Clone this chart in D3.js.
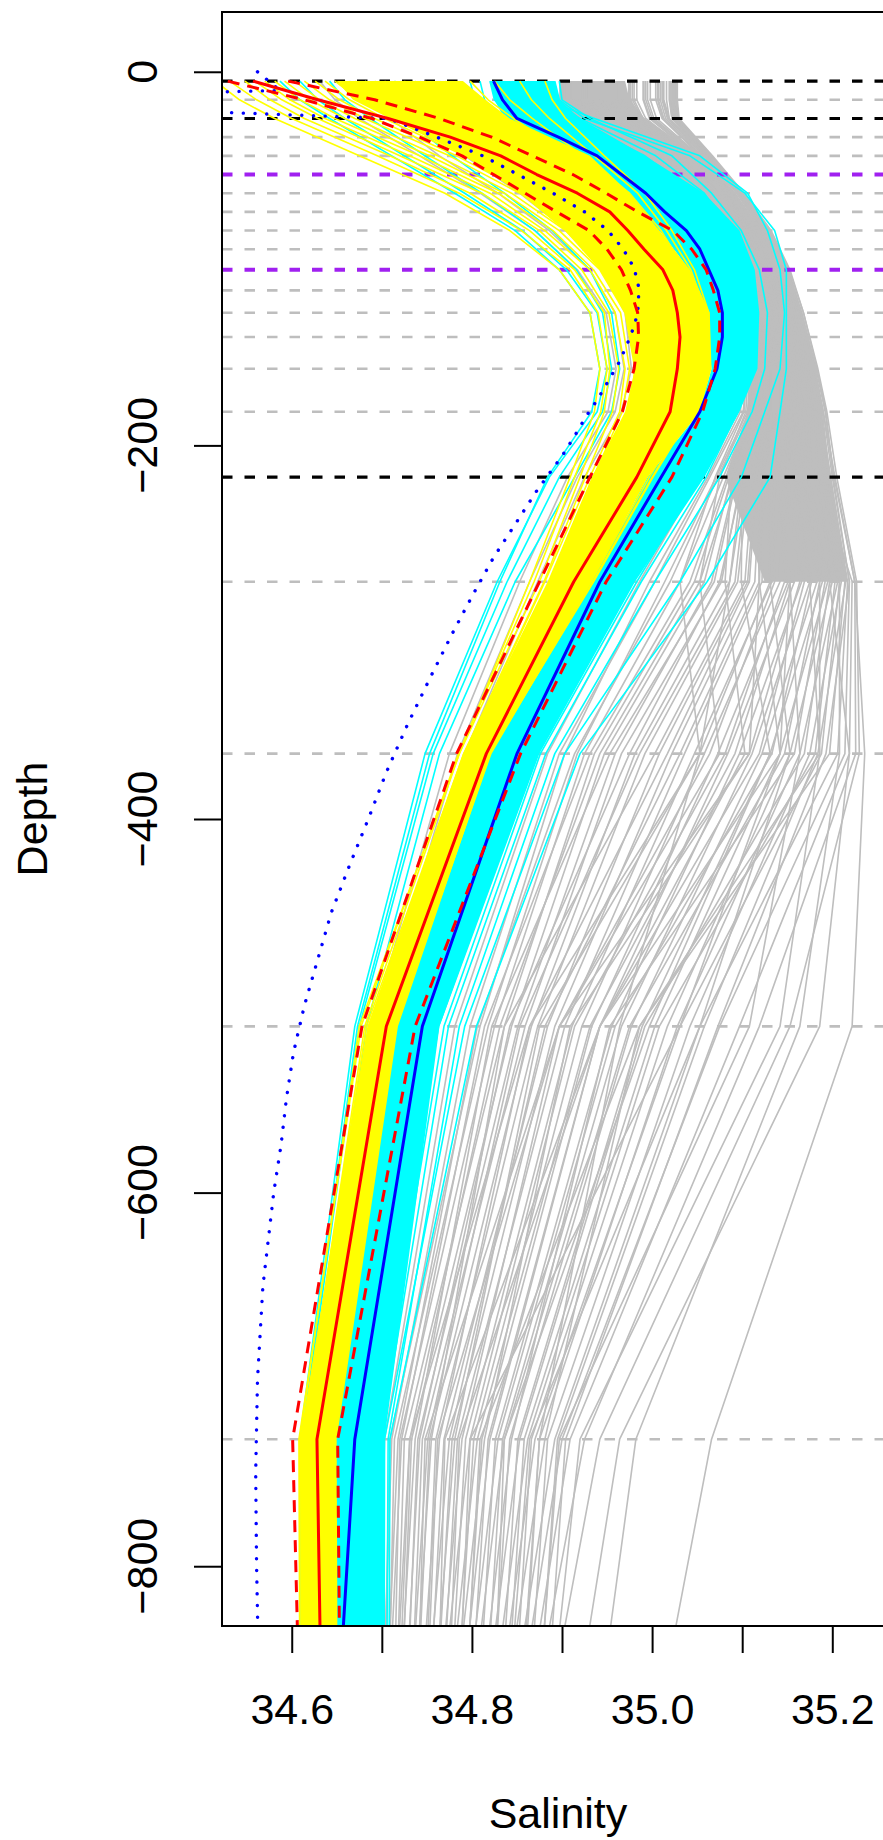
<!DOCTYPE html>
<html><head><meta charset="utf-8">
<script src="https://cdn.jsdelivr.net/npm/d3@7"></script>
<style>body{margin:0;background:#fff}text{font-family:"Liberation Sans",Arial,Helvetica,sans-serif}</style>
</head><body><svg id="c" width="883" height="1840"></svg>
<script>
// ---- data ----
const levels = [5,15,25,35,45,55,65,75,85,95,106,117,129,142,159,182,217,273,365,511,732,1000];
const famDepths = [5,15,25,45,65,85,106,129,159,182,217,273,365,511,732,1000];
const gridGrey = [15,35,45,65,75,85,95,117,129,142,159,182,273,365,511,732];
const gridBlack = [5,25,217];
const gridPurple = [55,106];
const xTicks = [34.6,34.7,34.8,34.9,35.0,35.1,35.2];
const xLabels = [34.6,34.8,35.0,35.2];
const yTicks = [0,-200,-400,-600,-800];

const redMean  = [34.557,34.629,34.707,34.776,34.832,34.872,34.917,34.953,34.973,34.991,35.012,35.023,35.028,35.031,35.028,35.020,34.983,34.913,34.816,34.705,34.628,34.637];
const redPlus  = [34.596,34.692,34.764,34.822,34.867,34.912,34.949,34.984,35.023,35.044,35.060,35.068,35.075,35.075,35.070,35.056,35.022,34.949,34.854,34.737,34.651,34.656];
const redMinus = [34.529,34.614,34.689,34.742,34.789,34.824,34.859,34.894,34.930,34.950,34.966,34.976,34.984,34.985,34.980,34.967,34.931,34.875,34.783,34.678,34.601,34.615];
const blueMean = [34.824,34.834,34.850,34.896,34.939,34.966,34.993,35.014,35.038,35.053,35.063,35.073,35.078,35.078,35.072,35.053,35.010,34.942,34.850,34.745,34.670,34.636];

const obsDepth = [0,10,15,25,35,45,55,65,75,85,95,105,115,125,135,145,155,165,175,185,195,205,215,225,240,260,280,300,325,350,375,400,425,450,475,500,525,550,575,600,650,700,750,800,850];
const obsSal = [34.562,34.587,34.148,34.707,34.761,34.812,34.851,34.890,34.925,34.951,34.968,34.980,34.985,34.985,34.981,34.973,34.964,34.952,34.940,34.926,34.914,34.901,34.886,34.871,34.851,34.824,34.801,34.779,34.753,34.728,34.705,34.685,34.664,34.644,34.629,34.614,34.602,34.594,34.588,34.580,34.568,34.562,34.560,34.561,34.563];

const yellowCoreDepth = [5,15,25,45,65,85,106,129,159,182,217,273,365,511,732,1000];
const yellowCoreLeft  = [34.650,34.668,34.709,34.792,34.853,34.903,34.942,34.970,34.981,34.970,34.933,34.884,34.790,34.684,34.609,34.611];
const yellowCoreRight = [34.790,34.815,34.842,34.931,34.975,35.008,35.042,35.064,35.066,35.053,34.995,34.933,34.820,34.717,34.648,34.648];
const cyanCoreDepth = [5,15,25,45,65,85,106,129,159,182,217,273,365,511,732,1000];
const cyanCoreLeft  = [34.820,34.825,34.836,34.905,34.959,35.008,35.042,35.058,35.066,35.053,34.995,34.933,34.820,34.717,34.648,34.648];
const cyanCoreRight = [34.892,34.897,34.920,34.992,35.058,35.097,35.114,35.119,35.117,35.097,35.058,34.981,34.875,34.764,34.703,34.703];
const greyCoreDepth = [5,15,25,45,65,85,106,129,159,182,217,273];
const greyCoreLeft  = [34.897,34.897,34.911,34.975,35.031,35.064,35.084,35.097,35.108,35.106,35.081,35.125];
const greyCoreRight = [34.970,34.975,34.992,35.053,35.092,35.122,35.145,35.160,35.177,35.188,35.199,35.217];

const yellowLines = [
[34.515,34.542,34.581,34.675,34.770,34.842,34.897,34.931,34.942,34.936,34.909,34.864,34.786,34.675,34.609,34.609],
[34.548,34.576,34.614,34.709,34.798,34.864,34.914,34.947,34.953,34.947,34.920,34.875,34.786,34.681,34.612,34.614],
[34.570,34.598,34.637,34.731,34.820,34.881,34.931,34.959,34.970,34.964,34.931,34.881,34.792,34.687,34.614,34.614],
[34.592,34.620,34.659,34.753,34.836,34.897,34.942,34.970,34.981,34.975,34.942,34.892,34.798,34.687,34.617,34.620],
[34.614,34.642,34.681,34.775,34.853,34.914,34.953,34.986,34.992,34.981,34.947,34.897,34.803,34.692,34.620,34.622],
[34.637,34.664,34.703,34.792,34.870,34.925,34.964,34.992,35.003,34.992,34.959,34.903,34.807,34.698,34.623,34.626],
[34.659,34.687,34.725,34.809,34.886,34.936,34.975,35.003,35.014,34.997,34.964,34.909,34.809,34.700,34.627,34.629],
[34.681,34.709,34.748,34.831,34.903,34.953,34.986,35.014,35.020,35.008,34.970,34.911,34.811,34.702,34.629,34.631],
[34.703,34.731,34.768,34.845,34.915,34.962,34.997,35.021,35.027,35.013,34.976,34.915,34.813,34.705,34.632,34.634],
[34.725,34.751,34.786,34.862,34.929,34.973,35.006,35.028,35.034,35.020,34.982,34.920,34.815,34.708,34.636,34.638],
[34.748,34.772,34.806,34.877,34.942,34.983,35.015,35.036,35.041,35.025,34.986,34.923,34.818,34.710,34.639,34.641],
[34.770,34.793,34.825,34.893,34.954,34.993,35.023,35.043,35.046,35.031,34.991,34.926,34.819,34.712,34.642,34.644],
[34.798,34.818,34.846,34.909,34.965,35.002,35.031,35.050,35.052,35.035,34.994,34.930,34.820,34.714,34.646,34.648],
[34.825,34.842,34.867,34.923,34.975,35.010,35.037,35.055,35.056,35.040,34.997,34.932,34.821,34.715,34.648,34.650],
[34.853,34.866,34.886,34.936,34.984,35.016,35.043,35.060,35.061,35.043,35.000,34.934,34.820,34.717,34.649,34.651],
[34.881,34.889,34.904,34.947,34.992,35.022,35.047,35.063,35.063,35.045,35.001,34.935,34.819,34.715,34.647,34.649],
[34.531,34.561,34.600,34.695,34.786,34.855,34.909,34.940,34.950,34.943,34.914,34.869,34.785,34.677,34.608,34.610],
[34.559,34.589,34.629,34.720,34.811,34.875,34.922,34.952,34.963,34.956,34.926,34.880,34.791,34.683,34.611,34.613],
[34.581,34.609,34.648,34.742,34.829,34.890,34.935,34.965,34.975,34.967,34.935,34.886,34.795,34.687,34.614,34.617],
[34.603,34.631,34.670,34.762,34.844,34.904,34.949,34.977,34.987,34.978,34.944,34.893,34.800,34.690,34.618,34.620],
[34.626,34.653,34.692,34.783,34.862,34.919,34.961,34.989,34.998,34.987,34.953,34.899,34.803,34.694,34.621,34.623],
[34.648,34.675,34.714,34.802,34.877,34.932,34.972,34.998,35.007,34.996,34.961,34.904,34.806,34.698,34.624,34.627],
[34.670,34.698,34.737,34.820,34.893,34.944,34.982,35.008,35.015,35.003,34.967,34.909,34.809,34.701,34.628,34.630],
[34.692,34.720,34.758,34.838,34.909,34.956,34.992,35.017,35.024,35.010,34.973,34.913,34.812,34.704,34.631,34.633],
[34.714,34.741,34.778,34.853,34.922,34.967,35.002,35.025,35.031,35.016,34.978,34.917,34.814,34.707,34.633,34.636],
[34.737,34.762,34.796,34.870,34.935,34.977,35.011,35.033,35.037,35.022,34.984,34.922,34.816,34.709,34.638,34.640]
];
const cyanLines = [
[34.609,34.629,34.659,34.725,34.792,34.856,34.905,34.939,34.950,34.939,34.886,34.828,34.748,34.670,34.609,34.609],
[34.642,34.659,34.687,34.748,34.811,34.870,34.916,34.945,34.955,34.945,34.897,34.839,34.757,34.675,34.612,34.613],
[34.587,34.609,34.642,34.711,34.781,34.848,34.897,34.931,34.942,34.933,34.884,34.831,34.753,34.673,34.611,34.611],
[34.681,34.698,34.725,34.778,34.836,34.889,34.931,34.955,34.964,34.955,34.914,34.848,34.764,34.683,34.617,34.618],
[34.892,34.897,34.925,35.042,35.103,35.136,35.149,35.149,35.149,35.142,35.131,35.061,34.920,34.805,34.709,34.707],
[34.875,34.881,34.936,35.053,35.106,35.128,35.142,35.147,35.142,35.125,35.099,35.031,34.903,34.792,34.703,34.702],
[34.897,34.900,34.931,35.022,35.066,35.099,35.119,35.128,35.125,35.111,35.075,35.003,34.892,34.786,34.707,34.704],
[34.798,34.803,34.822,34.903,34.959,35.011,35.042,35.056,35.053,35.034,34.992,34.933,34.822,34.720,34.649,34.649],
[34.809,34.814,34.831,34.914,34.970,35.020,35.051,35.064,35.062,35.044,35.004,34.942,34.831,34.727,34.654,34.654],
[34.820,34.825,34.842,34.925,34.981,35.028,35.058,35.071,35.068,35.052,35.013,34.949,34.839,34.733,34.660,34.660],
[34.829,34.834,34.853,34.936,34.992,35.037,35.066,35.077,35.074,35.058,35.020,34.955,34.845,34.740,34.665,34.665],
[34.836,34.843,34.864,34.947,35.003,35.046,35.073,35.083,35.079,35.064,35.026,34.961,34.852,34.747,34.671,34.671],
[34.844,34.852,34.875,34.959,35.014,35.054,35.079,35.088,35.085,35.070,35.033,34.966,34.859,34.752,34.677,34.677],
[34.853,34.861,34.886,34.970,35.025,35.062,35.086,35.094,35.091,35.075,35.040,34.972,34.865,34.758,34.682,34.682],
[34.862,34.870,34.897,34.981,35.036,35.070,35.093,35.099,35.096,35.082,35.046,34.977,34.871,34.763,34.688,34.688],
[34.871,34.879,34.909,34.992,35.047,35.077,35.099,35.105,35.102,35.088,35.053,34.983,34.876,34.769,34.693,34.693],
[34.881,34.887,34.920,35.004,35.058,35.086,35.106,35.111,35.107,35.095,35.060,34.988,34.882,34.774,34.699,34.699],
[34.742,34.755,34.781,34.845,34.909,34.970,35.008,35.031,35.037,35.022,34.975,34.903,34.809,34.714,34.642,34.642],
[34.714,34.731,34.755,34.814,34.877,34.937,34.980,35.004,35.011,34.997,34.953,34.886,34.795,34.703,34.633,34.633],
[34.764,34.775,34.798,34.870,34.933,34.992,35.027,35.045,35.046,35.028,34.986,34.920,34.820,34.720,34.649,34.649]
];
const greyLines = [
[34.898,34.898,34.907,34.972,35.028,35.063,35.083,35.095,35.100,35.094,35.053,34.986,34.884,34.781,34.703,34.691],
[34.902,34.902,34.911,34.978,35.033,35.068,35.088,35.100,35.106,35.101,35.064,35.003,34.897,34.798,34.711,34.693],
[34.906,34.906,34.918,34.983,35.037,35.071,35.091,35.104,35.111,35.108,35.073,35.020,34.914,34.806,34.718,34.694],
[34.911,34.911,34.922,34.988,35.042,35.075,35.095,35.108,35.116,35.113,35.083,35.042,34.931,34.814,34.722,34.695],
[34.918,34.918,34.929,34.995,35.045,35.079,35.097,35.111,35.120,35.117,35.090,35.053,34.942,34.831,34.731,34.701],
[34.923,34.923,34.934,34.999,35.049,35.083,35.101,35.115,35.124,35.121,35.094,35.069,34.953,34.822,34.737,34.704],
[34.929,34.929,34.940,35.004,35.053,35.085,35.104,35.117,35.126,35.125,35.101,35.075,34.975,34.842,34.742,34.712],
[34.934,34.934,34.945,35.008,35.057,35.089,35.108,35.121,35.130,35.129,35.105,35.092,34.986,34.853,34.751,34.715],
[34.940,34.940,34.953,35.013,35.060,35.091,35.110,35.123,35.133,35.133,35.112,35.103,35.003,34.836,34.755,34.720],
[34.945,34.945,34.957,35.017,35.064,35.095,35.114,35.127,35.137,35.137,35.116,35.108,35.017,34.864,34.764,34.725],
[34.951,34.951,34.964,35.022,35.066,35.096,35.115,35.130,35.140,35.141,35.123,35.119,35.031,34.881,34.775,34.728],
[34.956,34.956,34.968,35.026,35.070,35.100,35.119,35.134,35.144,35.145,35.127,35.131,35.053,34.875,34.781,34.737],
[34.962,34.962,34.975,35.031,35.073,35.102,35.121,35.135,35.146,35.149,35.134,35.136,35.064,34.897,34.789,34.741],
[34.967,34.967,34.980,35.035,35.077,35.106,35.125,35.139,35.150,35.153,35.138,35.147,35.081,34.914,34.798,34.738],
[34.975,34.975,34.986,35.040,35.080,35.107,35.126,35.141,35.153,35.156,35.145,35.153,35.092,34.931,34.806,34.747],
[34.980,34.980,34.990,35.044,35.084,35.111,35.130,35.145,35.157,35.160,35.149,35.164,35.108,34.909,34.814,34.752],
[34.990,34.990,34.997,35.048,35.085,35.113,35.132,35.146,35.160,35.164,35.156,35.169,35.119,34.942,34.820,34.760],
[34.995,34.995,35.002,35.052,35.089,35.117,35.136,35.150,35.164,35.168,35.160,35.177,35.133,34.959,34.829,34.763],
[35.006,35.006,35.012,35.054,35.091,35.119,35.138,35.153,35.167,35.173,35.167,35.186,35.147,34.975,34.836,34.768],
[35.011,35.011,35.017,35.058,35.095,35.123,35.142,35.157,35.171,35.177,35.171,35.192,35.158,34.953,34.844,34.779],
[35.021,35.021,35.023,35.060,35.095,35.124,35.145,35.160,35.175,35.184,35.190,35.197,35.169,34.992,34.853,34.782],
[35.025,35.025,35.027,35.064,35.099,35.128,35.149,35.164,35.179,35.188,35.194,35.203,35.181,35.008,34.862,34.788],
[35.009,35.009,35.015,35.057,35.094,35.122,35.141,35.156,35.170,35.176,35.172,35.208,35.188,35.031,34.870,34.795],
[35.019,35.019,35.022,35.061,35.098,35.127,35.148,35.163,35.178,35.187,35.196,35.214,35.197,34.986,34.881,34.798],
[35.023,35.023,35.025,35.062,35.097,35.126,35.147,35.162,35.177,35.186,35.198,35.217,35.206,35.053,34.892,34.803],
[35.027,35.027,35.029,35.066,35.101,35.130,35.151,35.166,35.181,35.190,35.200,35.219,35.214,35.075,34.900,34.811],
[35.013,35.013,35.019,35.060,35.097,35.125,35.144,35.159,35.173,35.180,35.185,35.222,35.219,35.097,34.909,34.820],
[35.024,35.024,35.026,35.063,35.099,35.129,35.150,35.166,35.182,35.192,35.202,35.225,35.226,35.119,34.925,34.821],
[35.026,35.026,35.028,35.065,35.100,35.131,35.152,35.168,35.184,35.194,35.205,35.227,35.230,35.153,34.942,34.838],
[35.022,35.022,35.024,35.061,35.096,35.125,35.146,35.163,35.179,35.190,35.203,35.225,35.236,35.222,35.066,34.960],
[34.993,34.993,35.000,35.051,35.088,35.116,35.135,35.149,35.163,35.170,35.180,35.208,35.208,35.164,34.982,34.907],
[34.978,34.978,34.989,35.043,35.083,35.110,35.129,35.144,35.156,35.162,35.170,35.197,35.219,35.186,34.964,34.875],
[34.965,34.965,34.978,35.034,35.076,35.105,35.124,35.138,35.149,35.152,35.150,35.175,35.186,35.142,34.920,34.860],
[34.954,34.954,34.967,35.025,35.069,35.099,35.118,35.133,35.143,35.144,35.138,35.153,35.164,35.108,34.897,34.853],
[34.943,34.943,34.956,35.016,35.063,35.094,35.113,35.126,35.136,35.136,35.125,35.131,35.153,35.053,34.864,34.820],
[34.932,34.932,34.943,35.007,35.056,35.088,35.107,35.120,35.129,35.128,35.115,35.119,35.142,35.031,34.798,34.775],
[34.921,34.921,34.932,34.998,35.048,35.082,35.100,35.114,35.123,35.120,35.100,35.099,35.131,34.997,34.836,34.815],
[34.910,34.910,34.921,34.987,35.041,35.074,35.094,35.107,35.115,35.112,35.088,35.081,35.103,34.942,34.770,34.756],
[34.901,34.901,34.910,34.976,35.032,35.067,35.087,35.100,35.107,35.104,35.075,35.053,35.075,34.897,34.748,34.733],
[34.899,34.899,34.908,34.974,35.030,35.065,35.085,35.098,35.105,35.102,35.070,35.031,35.053,34.964,34.875,34.840],
[34.631,34.648,34.675,34.742,34.809,34.870,34.917,34.949,34.960,34.951,34.906,34.853,34.775,34.689,34.620,34.620],
[34.664,34.681,34.709,34.764,34.829,34.886,34.931,34.959,34.969,34.959,34.917,34.864,34.784,34.695,34.623,34.623],
[34.698,34.714,34.742,34.792,34.853,34.906,34.945,34.970,34.977,34.966,34.925,34.873,34.792,34.701,34.629,34.629],
[34.903,34.903,34.912,34.973,35.029,35.064,35.084,35.097,35.103,35.098,35.062,34.997,34.903,34.809,34.709,34.697],
[34.905,34.905,34.914,34.980,35.035,35.069,35.089,35.102,35.109,35.106,35.071,35.014,34.917,34.818,34.714,34.702],
[34.908,34.908,34.919,34.985,35.039,35.072,35.092,35.105,35.113,35.110,35.079,35.031,34.925,34.825,34.720,34.708],
[34.913,34.913,34.924,34.990,35.043,35.076,35.096,35.109,35.117,35.114,35.085,35.047,34.936,34.836,34.725,34.708],
[34.917,34.917,34.928,34.993,35.044,35.078,35.096,35.110,35.119,35.116,35.088,35.058,34.947,34.844,34.733,34.712],
[34.921,34.921,34.932,34.998,35.048,35.082,35.100,35.114,35.123,35.120,35.093,35.066,34.959,34.851,34.740,34.717],
[34.927,34.927,34.938,35.002,35.052,35.084,35.103,35.116,35.125,35.124,35.099,35.077,34.966,34.859,34.745,34.722],
[34.932,34.932,34.943,35.007,35.056,35.088,35.107,35.120,35.129,35.128,35.104,35.086,34.981,34.866,34.753,34.727],
[34.936,34.936,34.947,35.010,35.058,35.090,35.109,35.122,35.131,35.131,35.108,35.095,34.992,34.873,34.760,34.737],
[34.943,34.943,34.956,35.016,35.063,35.094,35.113,35.126,35.136,35.136,35.115,35.106,35.008,34.884,34.769,34.739],
[34.947,34.947,34.959,35.019,35.065,35.096,35.115,35.128,35.139,35.139,35.120,35.114,35.022,34.892,34.778,34.745],
[34.952,34.952,34.965,35.023,35.067,35.097,35.116,35.131,35.141,35.142,35.124,35.122,35.036,34.903,34.784,34.752],
[34.958,34.958,34.970,35.028,35.071,35.101,35.120,35.135,35.145,35.147,35.130,35.133,35.047,34.911,34.793,34.761],
[34.963,34.963,34.976,35.032,35.074,35.103,35.122,35.136,35.147,35.150,35.135,35.142,35.058,34.922,34.802,34.767],
[34.969,34.969,34.982,35.037,35.078,35.107,35.126,35.140,35.151,35.154,35.141,35.151,35.073,34.933,34.811,34.775],
[34.976,34.976,34.987,35.041,35.081,35.108,35.127,35.142,35.154,35.157,35.146,35.158,35.084,34.942,34.818,34.782],
[34.983,34.983,34.993,35.046,35.085,35.112,35.131,35.146,35.158,35.162,35.151,35.166,35.097,34.955,34.826,34.791],
[34.991,34.991,34.998,35.049,35.086,35.114,35.133,35.147,35.161,35.165,35.157,35.175,35.111,34.966,34.834,34.799],
[34.998,34.998,35.005,35.053,35.090,35.118,35.137,35.151,35.165,35.170,35.163,35.183,35.122,34.977,34.842,34.806],
[35.007,35.007,35.013,35.055,35.092,35.120,35.139,35.154,35.168,35.174,35.168,35.189,35.131,34.989,34.851,34.815],
[35.012,35.012,35.018,35.059,35.096,35.124,35.143,35.158,35.172,35.178,35.175,35.195,35.142,35.003,34.858,34.822],
[35.016,35.016,35.019,35.058,35.094,35.122,35.143,35.158,35.173,35.181,35.183,35.200,35.153,35.017,34.866,34.831],
[35.020,35.020,35.022,35.060,35.096,35.125,35.146,35.161,35.176,35.185,35.189,35.206,35.164,35.028,34.875,34.836],
[35.024,35.024,35.026,35.063,35.098,35.127,35.148,35.163,35.178,35.187,35.193,35.210,35.175,35.042,34.884,34.845],
[35.027,35.027,35.029,35.065,35.100,35.129,35.150,35.165,35.180,35.189,35.197,35.215,35.184,35.058,34.895,34.856],
[35.028,35.028,35.030,35.067,35.102,35.132,35.153,35.168,35.183,35.193,35.201,35.219,35.193,35.073,34.904,34.865],
[34.930,34.930,34.941,35.005,35.054,35.086,35.105,35.118,35.127,35.126,35.100,35.086,35.053,34.864,34.731,34.708],
[34.950,34.950,34.963,35.021,35.066,35.096,35.116,35.130,35.140,35.140,35.121,35.119,35.108,34.897,34.762,34.739],
[34.974,34.974,34.985,35.039,35.080,35.107,35.127,35.141,35.152,35.155,35.145,35.153,35.142,34.942,34.786,34.763],
[35.004,35.004,35.011,35.054,35.091,35.119,35.138,35.152,35.166,35.172,35.170,35.186,35.186,34.986,34.809,34.779]
];

// ---- layout ----
const svg = d3.select("#c");
svg.append("rect").attr("width",883).attr("height",1840).attr("fill","#fff");
const P = {left:222, top:12, right:894, bottom:1626};
const x = d3.scaleLinear().domain([34.5226, 35.2685]).range([P.left, P.right]);
const y = d3.scaleLinear().domain([32, -832]).range([P.top, P.bottom]);

svg.append("clipPath").attr("id","clip").append("rect")
  .attr("x",P.left).attr("y",P.top).attr("width",P.right-P.left).attr("height",P.bottom-P.top);
const g = svg.append("g").attr("clip-path","url(#clip)");

function band(depths, left, right, color){
  const data = depths.map((d,i)=>({d:d, l:left[i], r:right[i]}));
  g.append("path").datum(data)
    .attr("d", d3.area().y(p=>y(-p.d)).x0(p=>x(p.l)).x1(p=>x(p.r)))
    .attr("fill", color);
}
function lines(arr, depths, color, w){
  const gen = d3.line().x(s=>x(s)).y((s,i)=>y(-depths[i]));
  g.append("g").selectAll("path").data(arr).enter().append("path")
    .attr("d", gen).attr("fill","none").attr("stroke",color)
    .attr("stroke-width",w).attr("stroke-linejoin","round");
}
function hlines(depths, color, w){
  g.append("g").selectAll("line").data(depths).enter().append("line")
    .attr("x1",P.left).attr("x2",P.right)
    .attr("y1",d=>y(-d)).attr("y2",d=>y(-d))
    .attr("stroke",color).attr("stroke-width",w).attr("stroke-dasharray","10.5 12");
}
function statLine(vals, depths, color, w, dash, cap){
  const gen = d3.line().x(s=>x(s)).y((s,i)=>y(-depths[i]));
  const p = g.append("path").datum(vals).attr("d",gen).attr("fill","none")
    .attr("stroke",color).attr("stroke-width",w).attr("stroke-linejoin","round");
  if (dash) p.attr("stroke-dasharray",dash);
  if (cap) p.attr("stroke-linecap",cap);
}

// grey family
band(greyCoreDepth, greyCoreLeft, greyCoreRight, "#BEBEBE");
lines(greyLines, famDepths, "#BEBEBE", 1.6);
// level lines
hlines(gridGrey, "#BEBEBE", 2.6);
hlines(gridBlack, "#000000", 3.2);
hlines(gridPurple, "#A020F0", 4);
// cyan family
band(cyanCoreDepth, cyanCoreLeft, cyanCoreRight, "#00FFFF");
lines(cyanLines, famDepths, "#00FFFF", 1.6);
// yellow family
band(yellowCoreDepth, yellowCoreLeft, yellowCoreRight, "#FFFF00");
lines(yellowLines, famDepths, "#FFFF00", 1.6);
// summary lines
statLine(blueMean, levels, "#0000FF", 3);
statLine(obsSal, obsDepth, "#0000FF", 3.4, "0.1 11.6", "round");
statLine(redMean, levels, "#FF0000", 3);
statLine(redPlus, levels, "#FF0000", 3, "12 8");
statLine(redMinus, levels, "#FF0000", 3, "12 8");

// frame
svg.append("rect").attr("x",P.left).attr("y",P.top)
  .attr("width",P.right-P.left).attr("height",P.bottom-P.top)
  .attr("fill","none").attr("stroke","#000").attr("stroke-width",2);

// x axis
const fmt = d3.format(".1f");
const xa = svg.append("g").attr("transform",`translate(0,${P.bottom})`)
  .call(d3.axisBottom(x).tickValues(xTicks).tickSize(27).tickSizeOuter(0)
    .tickPadding(40).tickFormat(d => xLabels.some(v=>Math.abs(v-d)<1e-9) ? fmt(d) : ""));
xa.select(".domain").remove();
xa.selectAll(".tick line").attr("stroke","#000").attr("stroke-width",2);
xa.selectAll(".tick text").attr("fill","#000").attr("font-size",43)
  .attr("font-family",'"Liberation Sans",Arial,Helvetica,sans-serif');

// y axis
const ya = svg.append("g").attr("transform",`translate(${P.left},0)`)
  .call(d3.axisLeft(y).tickValues(yTicks).tickSize(28).tickSizeOuter(0).tickFormat(""));
ya.select(".domain").remove();
ya.selectAll(".tick line").attr("stroke","#000").attr("stroke-width",2);
svg.append("g").selectAll("text").data(yTicks).enter().append("text")
  .attr("transform", d=>`translate(157,${y(d)}) rotate(-90)`)
  .attr("text-anchor","middle").attr("font-size",43).attr("fill","#000")
  .text(d => d3.format("d")(d));

// titles
svg.append("text").attr("x",(P.left+P.right)/2).attr("y",1828)
  .attr("text-anchor","middle").attr("font-size",43).text("Salinity");
svg.append("text").attr("transform",`translate(47,${(P.top+P.bottom)/2}) rotate(-90)`)
  .attr("text-anchor","middle").attr("font-size",43).text("Depth");
</script></body></html>
